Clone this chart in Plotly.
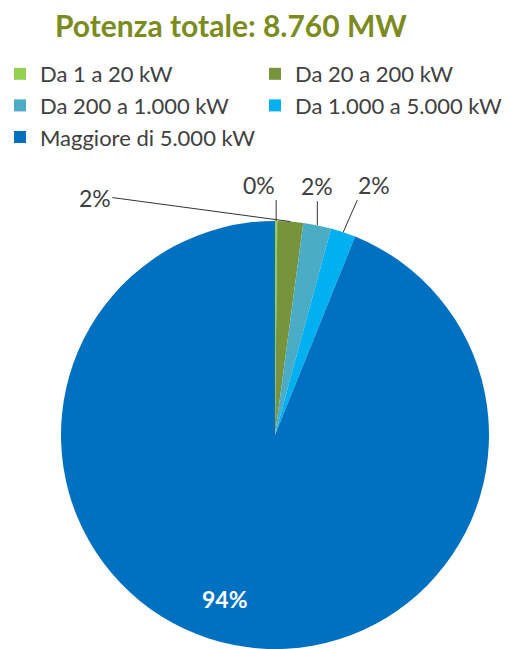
import numpy as np
import plotly.graph_objects as go

# ---- data ----
categories = ["Da 1 a 20 kW", "Da 20 a 200 kW", "Da 200 a 1.000 kW",
              "Da 1.000 a 5.000 kW", "Maggiore di 5.000 kW"]
values_mw = [15, 170, 185, 165, 8225]
colors = ["#92D050", "#77933C", "#4BACC6", "#00B0F0", "#0070C0"]
title_text = "Potenza totale: 8.760 MW"

# ---- geometry / style ----
W, H = 510, 649
CX, CY, R = 275, 435, 214
FONT = "Lato, Open Sans, sans-serif"
label_style = [
    dict(ax=0, ay=-21, xanchor="right", yanchor="bottom"),
    dict(ax=-178, ay=-24, xanchor="right", yanchor="middle"),
    dict(ax=0, ay=-24, xanchor="center", yanchor="bottom"),
    dict(ax=14, ay=-32, xanchor="left", yanchor="bottom"),
]

vals = np.array(values_mw, dtype=float)
frac = vals / vals.sum()
starts = np.concatenate([[0], np.cumsum(frac)[:-1]])
mids = (starts + frac / 2) * 360.0


def to_paper(theta_deg, rf):
    t = np.deg2rad(theta_deg)
    px = CX + rf * R * np.sin(t)
    py = CY - rf * R * np.cos(t)
    return px / W, 1 - py / H


fig = go.Figure(go.Pie(
    labels=categories,
    values=values_mw,
    sort=False,
    direction="clockwise",
    rotation=0,
    marker=dict(colors=colors, line=dict(width=0)),
    textinfo="none",
    domain=dict(x=[(CX - R) / W, (CX + R) / W], y=[0, 2 * (H - CY) / H]),
))

annotations = []
text_font = dict(family=FONT, size=23, color="#404040")
for i, st in enumerate(label_style):
    x, y = to_paper(mids[i], 1.0)
    annotations.append(dict(
        x=x, y=y, xref="paper", yref="paper",
        text=f"{round(frac[i] * 100):.0f}%",
        showarrow=True, arrowhead=0, arrowwidth=1, arrowcolor="#333333",
        standoff=0, startstandoff=0,
        font=text_font, borderpad=0, **st,
    ))
x, y = to_paper(mids[4] + 6, 0.8)
annotations.append(dict(
    x=x, y=y, xref="paper", yref="paper",
    text=f"<b>{round(frac[4] * 100):.0f}%</b>", showarrow=False,
    xanchor="center", yanchor="middle",
    font=dict(family=FONT, size=23, color="white"),
))
annotations.append(dict(
    x=231 / W, y=1 - 25 / H, xref="paper", yref="paper",
    text=f"<b>{title_text}</b>", showarrow=False,
    xanchor="center", yanchor="middle",
    font=dict(family=FONT, size=30, color="#7B8B1E"),
))

fig.update_layout(
    width=W, height=H,
    margin=dict(l=0, r=0, t=0, b=0),
    paper_bgcolor="white",
    annotations=annotations,
    showlegend=True,
    legend=dict(
        orientation="h",
        x=0.038, xanchor="left",
        y=1 - 53 / H, yanchor="top",
        entrywidth=210, entrywidthmode="pixels",
        font=dict(family=FONT, size=22, color="#404040"),
        itemwidth=30,
        traceorder="normal",
    ),
)

fig.write_html("out.html", config={"displayModeBar": False},
               post_script="document.body.style.margin='0';")
